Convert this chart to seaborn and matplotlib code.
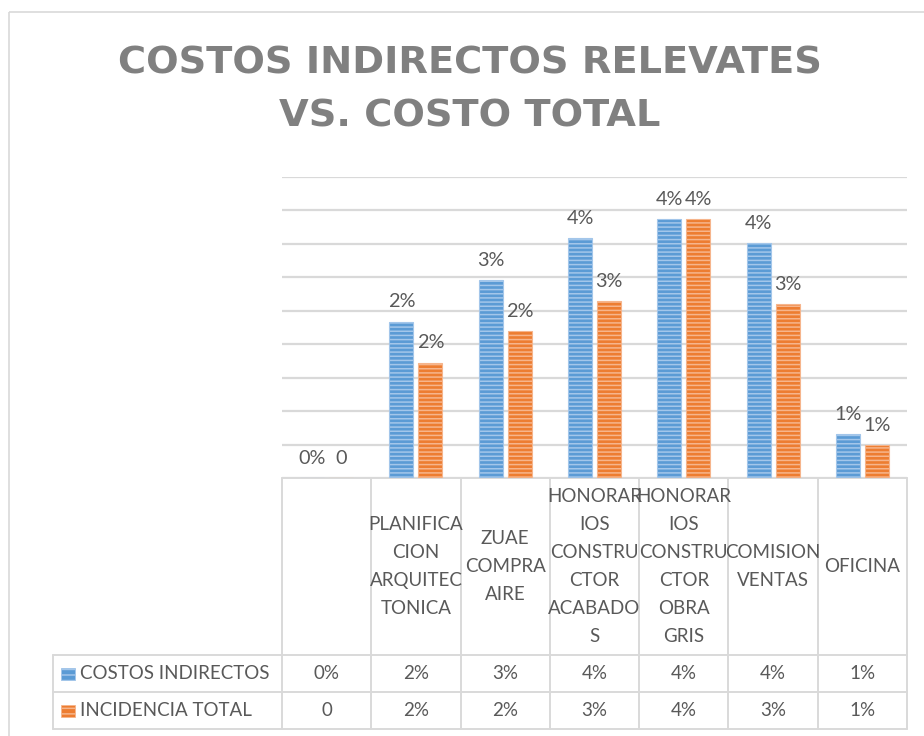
import numpy as np
import pandas as pd
import matplotlib
matplotlib.use("Agg")
import matplotlib.pyplot as plt
import matplotlib.transforms as mtransforms
from matplotlib.patches import Rectangle
import seaborn as sns

# ---- data -------------------------------------------------------------
categories = [
    "",
    "PLANIFICACION ARQUITECTONICA",
    "ZUAE COMPRA AIRE",
    "HONORARIOS CONSTRUCTOR ACABADOS",
    "HONORARIOS CONSTRUCTOR OBRA GRIS",
    "COMISION VENTAS",
    "OFICINA",
]
tick_labels = [
    "",
    "PLANIFICA\nCION\nARQUITEC\nTONICA",
    "ZUAE\nCOMPRA\nAIRE",
    "HONORAR\nIOS\nCONSTRU\nCTOR\nACABADO\nS",
    "HONORAR\nIOS\nCONSTRU\nCTOR\nOBRA\nGRIS",
    "COMISION\nVENTAS",
    "OFICINA",
]
series_names = ["COSTOS INDIRECTOS", "INCIDENCIA TOTAL"]
costos_indirectos = [0.0, 0.0248, 0.0314, 0.0380, 0.0410, 0.0372, 0.0070]
incidencia_total = [0.0, 0.0183, 0.0233, 0.0281, 0.0410, 0.0275, 0.0052]

title = "COSTOS INDIRECTOS RELEVATES\nVS. COSTO TOTAL"

# ---- styling ----------------------------------------------------------
BLUE, BLUE_STRIPE = "#5B9BD5", "#A3C6EA"
ORANGE, ORANGE_STRIPE = "#ED7D31", "#F6B58C"
GRID = "#D9D9D9"
TEXT = "#595959"
BODY_FONT = ["Lato", "DejaVu Sans"]
BODY_SIZE = 13.5
LABEL_SIZE = 14.3

sns.set_theme(style="white")
plt.rcParams["font.family"] = BODY_FONT
plt.rcParams["hatch.linewidth"] = 1.1


def pct(v):
    return f"{v:.0%}"


def general(v):
    # zero is stored as a plain number in the source sheet
    return "0" if v == 0 else pct(v)


formatters = [pct, general]

df = pd.DataFrame({
    "categoria": categories * 2,
    "serie": [series_names[0]] * len(categories) + [series_names[1]] * len(categories),
    "valor": costos_indirectos + incidencia_total,
})

W, H = 924, 736
fig = plt.figure(figsize=(W / 100, H / 100), dpi=100)

# pixel-space canvas for the frame, title and data table
ax_px = fig.add_axes([0, 0, 1, 1])
ax_px.set_xlim(0, W)
ax_px.set_ylim(H, 0)
ax_px.axis("off")

# plot area
L, R, T, B = 282, 907, 177, 478
ax = fig.add_axes([L / W, 1 - B / H, (R - L) / W, (B - T) / H])
ax.set_facecolor("none")

sns.barplot(
    data=df, x="categoria", y="valor", hue="serie", order=categories,
    hue_order=series_names, palette=[BLUE, ORANGE], width=0.65, gap=0.17,
    legend=False, ax=ax, saturation=1,
)

for cont, stripe in zip(ax.containers, [BLUE_STRIPE, ORANGE_STRIPE]):
    for bar in cont:
        bar.set_hatch("----")
        bar.set_edgecolor(stripe)
        bar.set_linewidth(0.8)

step = 0.0053
ax.set_ylim(0, 9 * step)
ax.set_xlim(-0.5, len(categories) - 0.5)
ax.set_yticks(np.arange(10) * step)
ax.yaxis.grid(True, color=GRID, linewidth=1.6)
ax.set_axisbelow(True)
ax.tick_params(left=False, bottom=False, labelleft=False, labelbottom=False)
for s in ax.spines.values():
    s.set_visible(False)
ax.set_xlabel("")
ax.set_ylabel("")

for cont, fmt in zip(ax.containers, formatters):
    ax.bar_label(cont, fmt=fmt, padding=8, fontsize=LABEL_SIZE, color=TEXT)

# ---- title ------------------------------------------------------------
ax_px.text(470, 90, title, ha="center", va="center", multialignment="center",
           fontsize=27.6, fontweight="bold", color="#808080",
           family=["DejaVu Sans"], linespacing=1.62)

# ---- outer frame ------------------------------------------------------
ax_px.add_patch(Rectangle((9, 12), 1000, 1000, fill=False, edgecolor=GRID,
                          linewidth=1.2, clip_on=False))

# ---- data table -------------------------------------------------------
fig.canvas.draw()


def to_px(x):
    return ax_px.transData.inverted().transform(ax.transData.transform((x, 0)))[0]


n = len(categories)
col_edges = [to_px(i - 0.5) for i in range(n + 1)]
LEG_L = 53
ROW_TOP, ROW1, ROW2, ROW_BOT = 478, 655, 692, 729

line_kw = dict(color=GRID, linewidth=1.4)
ax_px.plot([col_edges[0], col_edges[-1]], [ROW_TOP, ROW_TOP], **line_kw)
for y in (ROW1, ROW2, ROW_BOT):
    ax_px.plot([LEG_L, col_edges[-1]], [y, y], **line_kw)
for x in col_edges:
    ax_px.plot([x, x], [ROW_TOP, ROW_BOT], **line_kw)
ax_px.plot([LEG_L, LEG_L], [ROW1, ROW_BOT], **line_kw)

trans = mtransforms.blended_transform_factory(ax.transData, ax_px.transData)
for i, lab in enumerate(tick_labels):
    ax_px.text(i, (ROW_TOP + ROW1) / 2, lab, transform=trans, ha="center",
               va="center", multialignment="center", fontsize=BODY_SIZE,
               color=TEXT, linespacing=1.8)

rows_y = [(ROW1 + ROW2) / 2, (ROW2 + ROW_BOT) / 2]
for vals, fmt, y, name, color, stripe in zip(
        [costos_indirectos, incidencia_total], formatters, rows_y,
        series_names, [BLUE, ORANGE], [BLUE_STRIPE, ORANGE_STRIPE]):
    for i, v in enumerate(vals):
        ax_px.text(i, y, fmt(v), transform=trans, ha="center", va="center",
                   fontsize=BODY_SIZE, color=TEXT)
    ax_px.add_patch(Rectangle((61, y - 6), 14, 12, facecolor=color,
                              edgecolor=stripe, hatch="---", linewidth=0.6))
    ax_px.text(80, y, name, ha="left", va="center", fontsize=BODY_SIZE,
               color=TEXT)

fig.savefig("out.png", dpi=100)
